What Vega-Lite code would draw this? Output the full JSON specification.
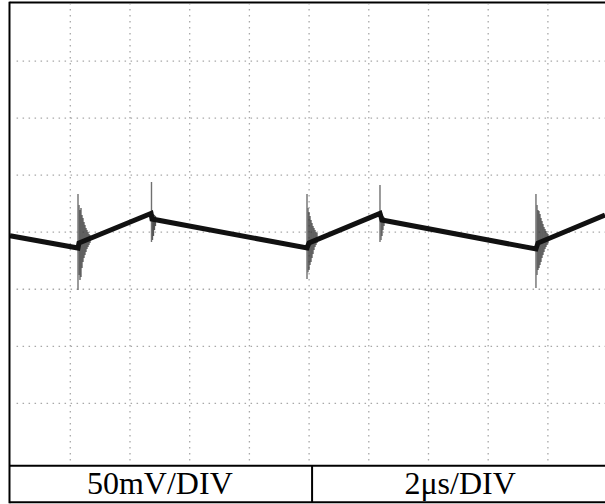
{
  "$schema": "https://vega.github.io/schema/vega-lite/v6.json",
  "width": 605,
  "height": 504,
  "autosize": "none",
  "padding": 0,
  "background": "white",
  "config": {"view": {"stroke": null}},
  "datasets": {
    "grid": [
      {"t": 2, "t2": 2, "mV": -200, "mV2": 200},
      {"t": 4, "t2": 4, "mV": -200, "mV2": 200},
      {"t": 6, "t2": 6, "mV": -200, "mV2": 200},
      {"t": 8, "t2": 8, "mV": -200, "mV2": 200},
      {"t": 10, "t2": 10, "mV": -200, "mV2": 200},
      {"t": 12, "t2": 12, "mV": -200, "mV2": 200},
      {"t": 14, "t2": 14, "mV": -200, "mV2": 200},
      {"t": 16, "t2": 16, "mV": -200, "mV2": 200},
      {"t": 18, "t2": 18, "mV": -200, "mV2": 200},
      {"t": 0.2, "t2": 20, "mV": 150, "mV2": 150},
      {"t": 0.2, "t2": 20, "mV": 100, "mV2": 100},
      {"t": 0.2, "t2": 20, "mV": 50, "mV2": 50},
      {"t": 0.2, "t2": 20, "mV": 0, "mV2": 0},
      {"t": 0.2, "t2": 20, "mV": -50, "mV2": -50},
      {"t": 0.2, "t2": 20, "mV": -100, "mV2": -100},
      {"t": 0.2, "t2": 20, "mV": -150, "mV2": -150}
    ],
    "frame": [
      {"t": -0.037, "t2": 20, "mV": 201.3, "mV2": 201.3},
      {"t": -0.037, "t2": -0.037, "mV": 202, "mV2": -237.5},
      {"t": -0.037, "t2": 20, "mV": -204.6, "mV2": -204.6},
      {"t": -0.037, "t2": 20, "mV": -236.7, "mV2": -236.7},
      {"t": 10.1, "t2": 10.1, "mV": -204.6, "mV2": -236.7}
    ],
    "trace": [
      {"t": -0.02, "mV": -3.07},
      {"t": 2.258, "mV": -13.85},
      {"t": 2.291, "mV": -9.47},
      {"t": 4.704, "mV": 16.48},
      {"t": 4.737, "mV": 11.57},
      {"t": 9.93, "mV": -13.85},
      {"t": 9.997, "mV": -9.47},
      {"t": 12.375, "mV": 16.48},
      {"t": 12.442, "mV": 10.69},
      {"t": 17.6, "mV": -14.72},
      {"t": 17.668, "mV": -9.47},
      {"t": 19.913, "mV": 15.07}
    ],
    "spikes": [
      {"t": 2.258, "lo": -50.6, "hi": 33.5},
      {"t": 4.72, "lo": -8.6, "hi": 44.0},
      {"t": 9.93, "lo": -41.0, "hi": 33.5},
      {"t": 12.375, "lo": -8.6, "hi": 41.4},
      {"t": 17.6, "lo": -48.9, "hi": 33.5}
    ],
    "bursts": [
      {"t": 2.291, "lo": -37.5, "hi": 23.8},
      {"t": 2.325, "lo": -41.9, "hi": 19.5},
      {"t": 2.358, "lo": -39.3, "hi": 21.2},
      {"t": 2.392, "lo": -31.4, "hi": 15.1},
      {"t": 2.425, "lo": -26.1, "hi": 12.4},
      {"t": 2.459, "lo": -22.6, "hi": 8.9},
      {"t": 2.492, "lo": -20.0, "hi": 6.3},
      {"t": 2.526, "lo": -17.4, "hi": 3.7},
      {"t": 2.559, "lo": -14.7, "hi": 1.9},
      {"t": 2.593, "lo": -13.0, "hi": 0.2},
      {"t": 2.626, "lo": -11.2, "hi": -1.6},
      {"t": 2.66, "lo": -9.5, "hi": -2.5},
      {"t": 4.754, "lo": -6.8, "hi": 17.7},
      {"t": 4.787, "lo": -3.3, "hi": 16.0},
      {"t": 4.821, "lo": 1.9, "hi": 15.1},
      {"t": 4.854, "lo": 5.4, "hi": 14.2},
      {"t": 9.962, "lo": -35.0, "hi": 21.2},
      {"t": 9.997, "lo": -33.1, "hi": 17.7},
      {"t": 10.03, "lo": -28.7, "hi": 14.2},
      {"t": 10.064, "lo": -26.1, "hi": 10.7},
      {"t": 10.097, "lo": -22.6, "hi": 8.1},
      {"t": 10.131, "lo": -19.1, "hi": 5.4},
      {"t": 10.164, "lo": -15.6, "hi": 3.7},
      {"t": 10.198, "lo": -13.0, "hi": 1.9},
      {"t": 10.231, "lo": -11.2, "hi": 0.2},
      {"t": 10.265, "lo": -9.5, "hi": -0.7},
      {"t": 12.408, "lo": -6.8, "hi": 16.8},
      {"t": 12.442, "lo": -3.3, "hi": 15.1},
      {"t": 12.475, "lo": 1.9, "hi": 14.2},
      {"t": 12.509, "lo": 5.4, "hi": 13.3},
      {"t": 17.634, "lo": -37.5, "hi": 23.8},
      {"t": 17.668, "lo": -33.1, "hi": 19.5},
      {"t": 17.701, "lo": -31.4, "hi": 18.6},
      {"t": 17.735, "lo": -28.7, "hi": 16.0},
      {"t": 17.768, "lo": -26.1, "hi": 12.4},
      {"t": 17.802, "lo": -22.6, "hi": 9.8},
      {"t": 17.835, "lo": -20.0, "hi": 7.2},
      {"t": 17.869, "lo": -17.4, "hi": 4.6},
      {"t": 17.903, "lo": -14.7, "hi": 2.8},
      {"t": 17.936, "lo": -13.0, "hi": 1.1},
      {"t": 17.97, "lo": -11.2, "hi": -0.7},
      {"t": 18.003, "lo": -9.5, "hi": -1.6}
    ],
    "labels": [
      {"t": 5.0, "mV": -229.5, "label": "50mV/DIV"},
      {"t": 15.06, "mV": -229.5, "label": "2μs/DIV"}
    ]
  },
  "layer": [
    {
      "data": {"name": "grid"},
      "mark": {"type": "rule", "color": "#a8a8a8", "strokeWidth": 1.3, "strokeDash": [1.5, 4.5]},
      "encoding": {
        "x": {"field": "t", "type": "quantitative", "scale": {"domain": [-0.355, 19.913], "nice": false, "zero": false}, "axis": null},
        "x2": {"field": "t2"},
        "y": {"field": "mV", "type": "quantitative", "scale": {"domain": [-238.2, 203.5], "nice": false, "zero": false}, "axis": null},
        "y2": {"field": "mV2"}
      }
    },
    {
      "data": {"name": "bursts"},
      "mark": {"type": "rule", "color": "#3a3a3a", "strokeWidth": 1.3, "opacity": 0.85},
      "encoding": {
        "x": {"field": "t", "type": "quantitative"},
        "y": {"field": "lo", "type": "quantitative"},
        "y2": {"field": "hi"}
      }
    },
    {
      "data": {"name": "spikes"},
      "mark": {"type": "rule", "color": "#707070", "strokeWidth": 1.4},
      "encoding": {
        "x": {"field": "t", "type": "quantitative"},
        "y": {"field": "lo", "type": "quantitative"},
        "y2": {"field": "hi"}
      }
    },
    {
      "data": {"name": "trace"},
      "mark": {"type": "line", "color": "#111111", "strokeWidth": 5, "strokeJoin": "miter"},
      "encoding": {
        "x": {"field": "t", "type": "quantitative"},
        "y": {"field": "mV", "type": "quantitative"},
        "order": {"field": "t", "type": "quantitative"}
      }
    },
    {
      "data": {"name": "frame"},
      "mark": {"type": "rule", "color": "black", "strokeWidth": 2},
      "encoding": {
        "x": {"field": "t", "type": "quantitative"},
        "x2": {"field": "t2"},
        "y": {"field": "mV", "type": "quantitative"},
        "y2": {"field": "mV2"}
      }
    },
    {
      "data": {"name": "labels"},
      "mark": {"type": "text", "font": "Liberation Serif", "fontSize": 32, "align": "center", "baseline": "alphabetic", "color": "black"},
      "encoding": {
        "x": {"field": "t", "type": "quantitative"},
        "y": {"field": "mV", "type": "quantitative"},
        "text": {"field": "label", "type": "nominal"}
      }
    }
  ]
}
